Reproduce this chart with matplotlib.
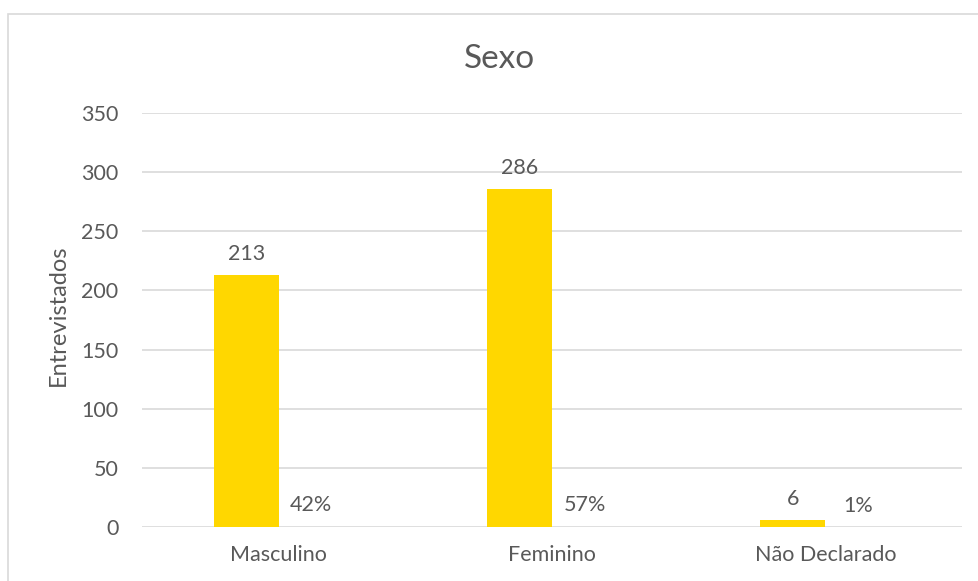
import numpy as np
import matplotlib
matplotlib.use("Agg")
import matplotlib.pyplot as plt
from matplotlib.patches import Rectangle

categories = ["Masculino", "Feminino", "Não Declarado"]
counts = [213, 286, 6]
shares = [0.42, 0.57, 0.01]
share_labels = ["42%", "57%", "1%"]
yticks = [0, 50, 100, 150, 200, 250, 300, 350]

GOLD = "#FFD700"
TXT = "#595959"
GRID = "#D9D9D9"
plt.rcParams["font.family"] = ["Lato", "DejaVu Sans"]

fig = plt.figure(figsize=(9.79, 5.81), dpi=100)
fig.patches.append(Rectangle((8 / 979, -0.1), 1.0, 1 - 14 / 581 + 0.1,
                             transform=fig.transFigure, fill=False,
                             edgecolor=GRID, lw=1.2))
ax = fig.add_axes([142 / 979, 1 - 527 / 581, 820 / 979, 414 / 581])

x = np.arange(len(categories))
w = 0.238
ax.bar(x - w / 2, counts, w, color=GOLD, zorder=3)
# second series (shares) sits on the same axis, so it is practically invisible
ax.bar(x + w / 2, shares, w, color="none", zorder=3)

for xi, c in zip(x, counts):
    ax.annotate(str(c), (xi - w / 2, c), xytext=(0, 8), textcoords="offset points",
                ha="center", va="bottom", fontsize=15.5, color=TXT)
for xi, s, lab in zip(x, shares, share_labels):
    ax.annotate(lab, (xi + w / 2, s), xytext=(0, 8), textcoords="offset points",
                ha="center", va="bottom", fontsize=15.5, color=TXT)

ax.set_xlim(-0.5, 2.5)
ax.set_ylim(0, 350)
ax.set_yticks(yticks)
ax.set_xticks(x)
ax.set_xticklabels(categories)
ax.tick_params(length=0, labelsize=15.5, labelcolor=TXT)
ax.tick_params(axis="x", pad=13)
ax.tick_params(axis="y", pad=17)
ax.grid(axis="y", color=GRID, lw=1.2, zorder=0)
for sp in ax.spines.values():
    sp.set_visible(False)
ax.set_ylabel("Entrevistados", fontsize=17, color=TXT)
ax.yaxis.set_label_coords(-0.089, 0.512)
fig.text(499 / 979, 1 - 59 / 581, "Sexo", ha="center", va="center",
         fontsize=24, color=TXT)

fig.savefig("out.png", dpi=100)
